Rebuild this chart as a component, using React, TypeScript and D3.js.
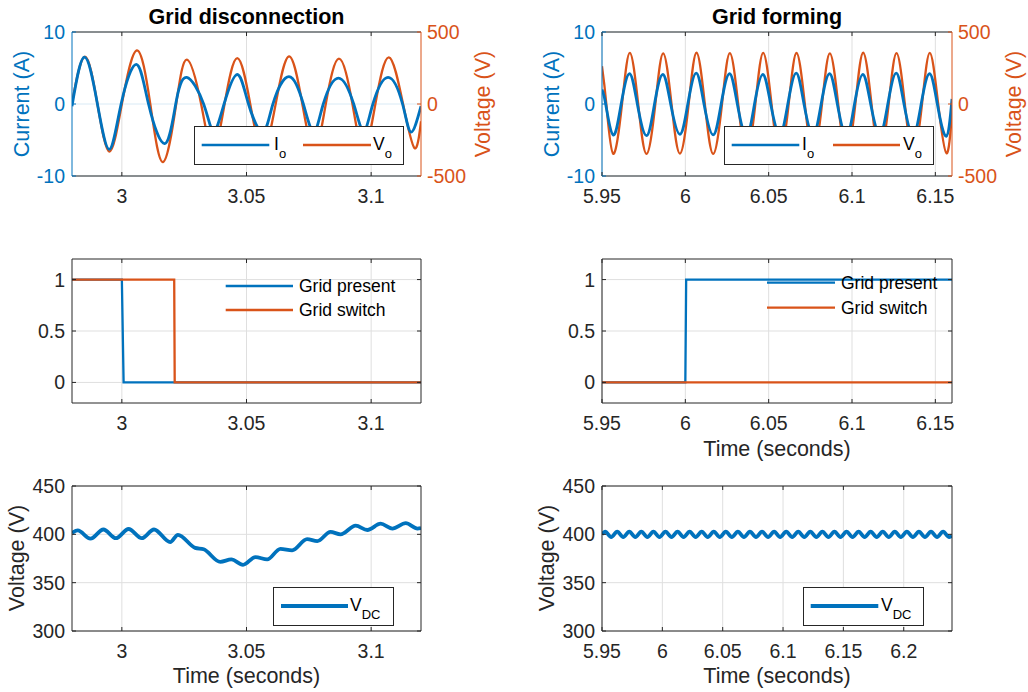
import React, { useEffect, useRef } from 'react';
import * as d3 from 'd3';

type Pt = [number, number];

const BLUE = '#0072BD';
const ORANGE = '#D95319';
const AXIS = '#262626';
const GRID = '#dfdfdf';
const GRID_BLUE = '#d9eaf5';
const FONT = "'Liberation Sans', Arial, Helvetica, sans-serif";

// ---- tick values ----
const discTicks = [3, 3.05, 3.1];
const formTicks = [5.95, 6, 6.05, 6.1, 6.15];
const formTicksLong = [5.95, 6, 6.05, 6.1, 6.15, 6.2];
const currentTicks = [-10, 0, 10];
const voltTicks = [-500, 0, 500];
const stateTicks = [0, 0.5, 1];
const vdcTicks = [300, 350, 400, 450];

// ---- grid disconnection: output current Io (A) and voltage Vo (V) ----
const discIo: Pt[] = [
  [2.98, -0.3], [2.985, 6.5], [2.9902, 0], [2.995, -6.3], [2.9997, 0],
  [3.0058, 5.5], [3.0107, 0], [3.0172, -5.5], [3.0216, 0],
  [3.026, 3.7], [3.0328, 0], [3.0368, -3.8], [3.041, 0],
  [3.0463, 4.1], [3.0508, 0], [3.0565, -3.9], [3.0606, 0],
  [3.067, 3.8], [3.0728, 0], [3.077, -3.9], [3.0808, 0],
  [3.0869, 3.6], [3.093, 0], [3.097, -3.8], [3.1007, 0],
  [3.1068, 3.7], [3.1126, 0], [3.116, -3.9], [3.12, -0.3],
];
const discVo: Pt[] = [
  [2.98, 10], [2.9852, 328], [2.9902, 0], [2.995, -330], [3.0, 0],
  [3.006, 373], [3.0114, 0], [3.0165, -403], [3.0218, 0],
  [3.0261, 308], [3.0318, 0], [3.0365, -325], [3.0412, 0],
  [3.0463, 319], [3.0515, 0], [3.0565, -325], [3.0617, 0],
  [3.0671, 331], [3.0724, 0], [3.0772, -325], [3.0818, 0],
  [3.0871, 315], [3.0925, 0], [3.097, -325], [3.1017, 0],
  [3.1071, 324], [3.1128, 0], [3.1174, -306], [3.12, -120],
];

// ---- grid forming: Io and Vo ----
const formIo: Pt[] = [
  [5.95, 2.0], [5.9522, 0], [5.9567, -4.3], [5.9615, 0],
  [5.9665, 4.2], [5.9712, 0], [5.9767, -4.4], [5.9815, 0],
  [5.9865, 4.1], [5.9912, 0], [5.9967, -4.2], [6.0015, 0],
  [6.0065, 4.3], [6.0112, 0], [6.0167, -4.3], [6.0215, 0],
  [6.0265, 4.2], [6.0312, 0], [6.0367, -4.4], [6.0415, 0],
  [6.0465, 4.1], [6.0512, 0], [6.0567, -4.2], [6.0615, 0],
  [6.0665, 4.3], [6.0712, 0], [6.0767, -4.3], [6.0815, 0],
  [6.0865, 4.2], [6.0912, 0], [6.0967, -4.4], [6.1015, 0],
  [6.1065, 4.1], [6.1112, 0], [6.1167, -4.2], [6.1215, 0],
  [6.1265, 4.3], [6.1312, 0], [6.1367, -4.3], [6.1415, 0],
  [6.1465, 4.2], [6.1512, 0], [6.1565, -4.5], [6.16, 0.7],
];
const formVo: Pt[] = [
  [5.95, 262], [5.9526, 0], [5.9567, -345], [5.962, 0],
  [5.9667, 355], [5.9717, 0], [5.9767, -346], [5.982, 0],
  [5.9867, 352], [5.9917, 0], [5.9967, -344], [6.002, 0],
  [6.0067, 356], [6.0117, 0], [6.0167, -346], [6.022, 0],
  [6.0267, 353], [6.0317, 0], [6.0367, -345], [6.042, 0],
  [6.0467, 355], [6.0517, 0], [6.0567, -344], [6.062, 0],
  [6.0667, 354], [6.0717, 0], [6.0767, -346], [6.082, 0],
  [6.0867, 352], [6.0917, 0], [6.0967, -345], [6.102, 0],
  [6.1067, 356], [6.1117, 0], [6.1167, -344], [6.122, 0],
  [6.1267, 353], [6.1317, 0], [6.1367, -346], [6.142, 0],
  [6.1467, 355], [6.1517, 0], [6.1567, -342], [6.16, -60],
];

// ---- grid present / grid switch ----
const discPresent: Pt[] = [[2.98, 1], [3.0, 1], [3.0007, 0], [3.12, 0]];
const discSwitch: Pt[] = [[2.98, 1], [3.021, 1], [3.0212, 0], [3.12, 0]];
const formPresent: Pt[] = [[5.95, 0], [6.0, 0], [6.0005, 1], [6.16, 1]];
const formSwitch: Pt[] = [[5.95, 0], [6.16, 0]];

// ---- DC link voltage ----
const discVdc: Pt[] = [
  [2.98, 401.4], [2.9823, 404], [2.9874, 395.5], [2.9926, 405], [2.9976, 396],
  [3.0027, 405.5], [3.008, 396], [3.0129, 405], [3.0194, 392], [3.0225, 399.5],
  [3.0294, 386], [3.0328, 384.5], [3.0395, 371.5], [3.0439, 374], [3.0486, 368.5],
  [3.0536, 376.5], [3.0583, 374], [3.0636, 385], [3.0683, 383.5], [3.0743, 395],
  [3.0784, 393], [3.0837, 402.5], [3.0877, 400], [3.0938, 409], [3.0985, 404.5],
  [3.1038, 411], [3.1085, 406], [3.1139, 411.5], [3.1186, 406], [3.12, 406.5],
];
const formVdc: Pt[] = [
  [5.95, 400],
  [5.9526, 402.8], [5.9576, 397.2], [5.9626, 402.8], [5.9676, 397.2],
  [5.9726, 402.8], [5.9776, 397.2], [5.9826, 402.8], [5.9876, 397.2],
  [5.9926, 402.8], [5.9976, 397.2], [6.0026, 402.8], [6.0076, 397.2],
  [6.0126, 402.8], [6.0176, 397.2], [6.0226, 402.8], [6.0276, 397.2],
  [6.0326, 402.8], [6.0376, 397.2], [6.0426, 402.8], [6.0476, 397.2],
  [6.0526, 402.8], [6.0576, 397.2], [6.0626, 402.8], [6.0676, 397.2],
  [6.0726, 402.8], [6.0776, 397.2], [6.0826, 402.8], [6.0876, 397.2],
  [6.0926, 402.8], [6.0976, 397.2], [6.1026, 402.8], [6.1076, 397.2],
  [6.1126, 402.8], [6.1176, 397.2], [6.1226, 402.8], [6.1276, 397.2],
  [6.1326, 402.8], [6.1376, 397.2], [6.1426, 402.8], [6.1476, 397.2],
  [6.1526, 402.8], [6.1576, 397.2], [6.1626, 402.8], [6.1676, 397.2],
  [6.1726, 402.8], [6.1776, 397.2], [6.1826, 402.8], [6.1876, 397.2],
  [6.1926, 402.8], [6.1976, 397.2], [6.2026, 402.8], [6.2076, 397.2],
  [6.2126, 402.8], [6.2176, 397.2], [6.2226, 402.8], [6.2276, 397.2],
  [6.2326, 402.8], [6.2376, 397.2], [6.24, 398.5],
];

interface PanelSpec {
  id: string;
  left: number; right: number; top: number; bottom: number;
  xDomain: [number, number]; xTicks: number[];
  yDomain: [number, number]; yTicks: number[];
  yColor: string; yGrid: string;
  y2?: { domain: [number, number]; ticks: number[]; color: string };
}

const TICK = 4;

function setupPanel(svg: any, p: PanelSpec) {
  const x = d3.scaleLinear().domain(p.xDomain).range([p.left, p.right]);
  const y = d3.scaleLinear().domain(p.yDomain).range([p.bottom, p.top]);
  const y2 = p.y2 ? d3.scaleLinear().domain(p.y2.domain).range([p.bottom, p.top]) : y;

  svg.append('clipPath').attr('id', 'clip-' + p.id)
    .append('rect')
    .attr('x', p.left).attr('y', p.top)
    .attr('width', p.right - p.left).attr('height', p.bottom - p.top);

  const grid = svg.append('g');
  grid.selectAll('.vg').data(p.xTicks).enter().append('line')
    .attr('x1', (d: number) => x(d)).attr('x2', (d: number) => x(d))
    .attr('y1', p.top).attr('y2', p.bottom)
    .attr('stroke', GRID).attr('stroke-width', 1);
  grid.selectAll('.hg').data(p.yTicks).enter().append('line')
    .attr('x1', p.left).attr('x2', p.right)
    .attr('y1', (d: number) => y(d)).attr('y2', (d: number) => y(d))
    .attr('stroke', p.yGrid).attr('stroke-width', 1);

  const plot = svg.append('g').attr('clip-path', `url(#clip-${p.id})`);
  return { x, y, y2, plot };
}

function drawFrame(svg: any, p: PanelSpec, x: any, y: any, y2: any) {
  const g = svg.append('g');
  const rightColor = p.y2 ? p.y2.color : AXIS;
  g.append('line').attr('x1', p.left).attr('x2', p.right).attr('y1', p.top).attr('y2', p.top).attr('stroke', AXIS);
  g.append('line').attr('x1', p.left).attr('x2', p.right).attr('y1', p.bottom).attr('y2', p.bottom).attr('stroke', AXIS);
  g.append('line').attr('x1', p.left).attr('x2', p.left).attr('y1', p.top).attr('y2', p.bottom).attr('stroke', p.yColor);
  g.append('line').attr('x1', p.right).attr('x2', p.right).attr('y1', p.top).attr('y2', p.bottom).attr('stroke', rightColor);

  p.xTicks.forEach((t) => {
    g.append('line').attr('x1', x(t)).attr('x2', x(t)).attr('y1', p.bottom).attr('y2', p.bottom - TICK).attr('stroke', AXIS);
    g.append('line').attr('x1', x(t)).attr('x2', x(t)).attr('y1', p.top).attr('y2', p.top + TICK).attr('stroke', AXIS);
  });
  g.selectAll('.xl').data(p.xTicks).enter().append('text')
    .attr('x', (d: number) => x(d)).attr('y', p.bottom + 27)
    .attr('text-anchor', 'middle').attr('fill', AXIS)
    .style('font-size', '19.5px')
    .text((d: number) => String(d));

  p.yTicks.forEach((t) => {
    g.append('line').attr('x1', p.left).attr('x2', p.left + TICK).attr('y1', y(t)).attr('y2', y(t)).attr('stroke', p.yColor);
    if (!p.y2) {
      g.append('line').attr('x1', p.right).attr('x2', p.right - TICK).attr('y1', y(t)).attr('y2', y(t)).attr('stroke', AXIS);
    }
  });
  g.selectAll('.yl').data(p.yTicks).enter().append('text')
    .attr('x', p.left - 7).attr('y', (d: number) => y(d)).attr('dy', '0.36em')
    .attr('text-anchor', 'end').attr('fill', p.yColor)
    .style('font-size', '19.5px')
    .text((d: number) => String(d));

  if (p.y2) {
    p.y2.ticks.forEach((t) => {
      g.append('line').attr('x1', p.right).attr('x2', p.right - TICK).attr('y1', y2(t)).attr('y2', y2(t)).attr('stroke', rightColor);
    });
    g.selectAll('.y2l').data(p.y2.ticks).enter().append('text')
      .attr('x', p.right + 6).attr('y', (d: number) => y2(d)).attr('dy', '0.36em')
      .attr('text-anchor', 'start').attr('fill', rightColor)
      .style('font-size', '19.5px')
      .text((d: number) => String(d));
  }
}

function yLabel(svg: any, text: string, baselineX: number, cy: number, color: string) {
  svg.append('text')
    .attr('transform', `translate(${baselineX},${cy}) rotate(-90)`)
    .attr('text-anchor', 'middle').attr('fill', color)
    .style('font-size', '21.5px')
    .text(text);
}

function xLabel(svg: any, text: string, cx: number, baseline: number) {
  svg.append('text')
    .attr('x', cx).attr('y', baseline)
    .attr('text-anchor', 'middle').attr('fill', AXIS)
    .style('font-size', '21.5px')
    .text(text);
}

function boxLegend(svg: any, x0: number, y0: number, w: number, h: number,
  items: { color: string; width: number; lx1: number; lx2: number; tx: number; main: string; sub: string }[]) {
  const g = svg.append('g');
  g.append('rect').attr('x', x0 + 0.5).attr('y', y0 + 0.5).attr('width', w).attr('height', h)
    .attr('fill', '#fff').attr('stroke', AXIS).attr('stroke-width', 1);
  const cy = y0 + h / 2;
  items.forEach((it) => {
    g.append('line').attr('x1', it.lx1).attr('x2', it.lx2).attr('y1', cy).attr('y2', cy)
      .attr('stroke', it.color).attr('stroke-width', it.width);
    const t = g.append('text').attr('x', it.tx).attr('y', cy + 5).attr('fill', '#000').style('font-size', '17.5px');
    t.append('tspan').text(it.main);
    t.append('tspan').attr('dy', 8).style('font-size', '13px').text(it.sub);
  });
}

function plainLegend(svg: any, lx1: number, lx2: number, tx: number, rows: { y: number; color: string; label: string }[]) {
  const g = svg.append('g');
  rows.forEach((r) => {
    g.append('line').attr('x1', lx1).attr('x2', lx2).attr('y1', r.y).attr('y2', r.y)
      .attr('stroke', r.color).attr('stroke-width', 2.3);
    g.append('text').attr('x', tx).attr('y', r.y + 6).attr('fill', '#000')
      .style('font-size', '17.5px').text(r.label);
  });
}

const App = () => {
  const svgRef = useRef<SVGSVGElement | null>(null);

  useEffect(() => {
    const svg = d3.select(svgRef.current);
    svg.selectAll('*').remove();

    const L = { left: 72, right: 421 };
    const R = { left: 602, right: 952 };
    const rowTop = { top: 32, bottom: 176 };
    const rowMid = { top: 259, bottom: 403 };
    const rowBot = { top: 486, bottom: 631 };

    const mkLine = (x: any, y: any, curve: any) =>
      d3.line<Pt>().x((d) => x(d[0])).y((d) => y(d[1])).curve(curve);

    // ---------- top row ----------
    const topSpecs: { spec: PanelSpec; io: Pt[]; vo: Pt[]; title: string }[] = [
      {
        spec: {
          id: 'tl', ...L, ...rowTop, xDomain: [2.98, 3.12], xTicks: discTicks,
          yDomain: [-10, 10], yTicks: currentTicks, yColor: BLUE, yGrid: GRID_BLUE,
          y2: { domain: [-500, 500], ticks: voltTicks, color: ORANGE },
        },
        io: discIo, vo: discVo, title: 'Grid disconnection',
      },
      {
        spec: {
          id: 'tr', ...R, ...rowTop, xDomain: [5.95, 6.16], xTicks: formTicks,
          yDomain: [-10, 10], yTicks: currentTicks, yColor: BLUE, yGrid: GRID_BLUE,
          y2: { domain: [-500, 500], ticks: voltTicks, color: ORANGE },
        },
        io: formIo, vo: formVo, title: 'Grid forming',
      },
    ];
    topSpecs.forEach(({ spec, io, vo, title }) => {
      const { x, y, y2, plot } = setupPanel(svg, spec);
      plot.append('path').datum(vo).attr('fill', 'none').attr('stroke', ORANGE).attr('stroke-width', 2.3)
        .attr('d', mkLine(x, y2, d3.curveNatural));
      plot.append('path').datum(io).attr('fill', 'none').attr('stroke', BLUE).attr('stroke-width', 2.8)
        .attr('d', mkLine(x, y, d3.curveNatural));
      drawFrame(svg, spec, x, y, y2);
      svg.append('text').attr('x', (spec.left + spec.right) / 2).attr('y', 23.5)
        .attr('text-anchor', 'middle').attr('fill', '#000').attr('font-weight', 'bold')
        .style('font-size', '21.5px').text(title);
    });
    yLabel(svg, 'Current (A)', 28.5, 104, BLUE);
    yLabel(svg, 'Voltage (V)', 490, 104, ORANGE);
    yLabel(svg, 'Current (A)', 558.5, 104, BLUE);
    yLabel(svg, 'Voltage (V)', 1020.5, 104, ORANGE);

    boxLegend(svg, 194, 126, 209, 38, [
      { color: BLUE, width: 2.3, lx1: 201.7, lx2: 269.3, tx: 274, main: 'I', sub: 'o' },
      { color: ORANGE, width: 2.3, lx1: 303, lx2: 371, tx: 373, main: 'V', sub: 'o' },
    ]);
    boxLegend(svg, 724, 126, 209, 38, [
      { color: BLUE, width: 2.3, lx1: 731.7, lx2: 799.3, tx: 802, main: 'I', sub: 'o' },
      { color: ORANGE, width: 2.3, lx1: 833, lx2: 900, tx: 903, main: 'V', sub: 'o' },
    ]);

    // ---------- middle row ----------
    const midSpecs: { spec: PanelSpec; present: Pt[]; sw: Pt[] }[] = [
      {
        spec: { id: 'ml', ...L, ...rowMid, xDomain: [2.98, 3.12], xTicks: discTicks,
          yDomain: [-0.2, 1.2], yTicks: stateTicks, yColor: AXIS, yGrid: GRID },
        present: discPresent, sw: discSwitch,
      },
      {
        spec: { id: 'mr', ...R, ...rowMid, xDomain: [5.95, 6.16], xTicks: formTicks,
          yDomain: [-0.2, 1.2], yTicks: stateTicks, yColor: AXIS, yGrid: GRID },
        present: formPresent, sw: formSwitch,
      },
    ];
    midSpecs.forEach(({ spec, present, sw }) => {
      const { x, y, plot } = setupPanel(svg, spec);
      plot.append('path').datum(present).attr('fill', 'none').attr('stroke', BLUE).attr('stroke-width', 2.3)
        .attr('d', mkLine(x, y, d3.curveLinear));
      plot.append('path').datum(sw).attr('fill', 'none').attr('stroke', ORANGE).attr('stroke-width', 2.3)
        .attr('d', mkLine(x, y, d3.curveLinear));
      drawFrame(svg, spec, x, y, y);
    });
    plainLegend(svg, 225.7, 293, 299, [
      { y: 286, color: BLUE, label: 'Grid present' },
      { y: 310, color: ORANGE, label: 'Grid switch' },
    ]);
    plainLegend(svg, 767, 835, 841, [
      { y: 282.7, color: BLUE, label: 'Grid present' },
      { y: 307.7, color: ORANGE, label: 'Grid switch' },
    ]);
    xLabel(svg, 'Time (seconds)', (R.left + R.right) / 2, rowMid.bottom + 53);

    // ---------- bottom row ----------
    const botSpecs: { spec: PanelSpec; vdc: Pt[] }[] = [
      {
        spec: { id: 'bl', ...L, ...rowBot, xDomain: [2.98, 3.12], xTicks: discTicks,
          yDomain: [300, 450], yTicks: vdcTicks, yColor: AXIS, yGrid: GRID },
        vdc: discVdc,
      },
      {
        spec: { id: 'br', ...R, ...rowBot, xDomain: [5.95, 6.24], xTicks: formTicksLong,
          yDomain: [300, 450], yTicks: vdcTicks, yColor: AXIS, yGrid: GRID },
        vdc: formVdc,
      },
    ];
    botSpecs.forEach(({ spec, vdc }) => {
      const { x, y, plot } = setupPanel(svg, spec);
      plot.append('path').datum(vdc).attr('fill', 'none').attr('stroke', BLUE).attr('stroke-width', 3.8)
        .attr('stroke-linejoin', 'round')
        .attr('d', mkLine(x, y, d3.curveMonotoneX));
      drawFrame(svg, spec, x, y, y);
      xLabel(svg, 'Time (seconds)', (spec.left + spec.right) / 2, rowBot.bottom + 52);
    });
    yLabel(svg, 'Voltage (V)', 23.5, 558, AXIS);
    yLabel(svg, 'Voltage (V)', 553.5, 558, AXIS);

    boxLegend(svg, 273, 587, 120, 38, [
      { color: BLUE, width: 3.8, lx1: 281, lx2: 348, tx: 350, main: 'V', sub: 'DC' },
    ]);
    boxLegend(svg, 803, 587, 120, 38, [
      { color: BLUE, width: 3.8, lx1: 810.7, lx2: 878.3, tx: 881, main: 'V', sub: 'DC' },
    ]);
  }, []);

  return (
    <svg
      ref={svgRef}
      width={1028}
      height={692}
      style={{ position: 'absolute', left: 0, top: 0, background: '#fff', fontFamily: FONT }}
    />
  );
};

export default App;
